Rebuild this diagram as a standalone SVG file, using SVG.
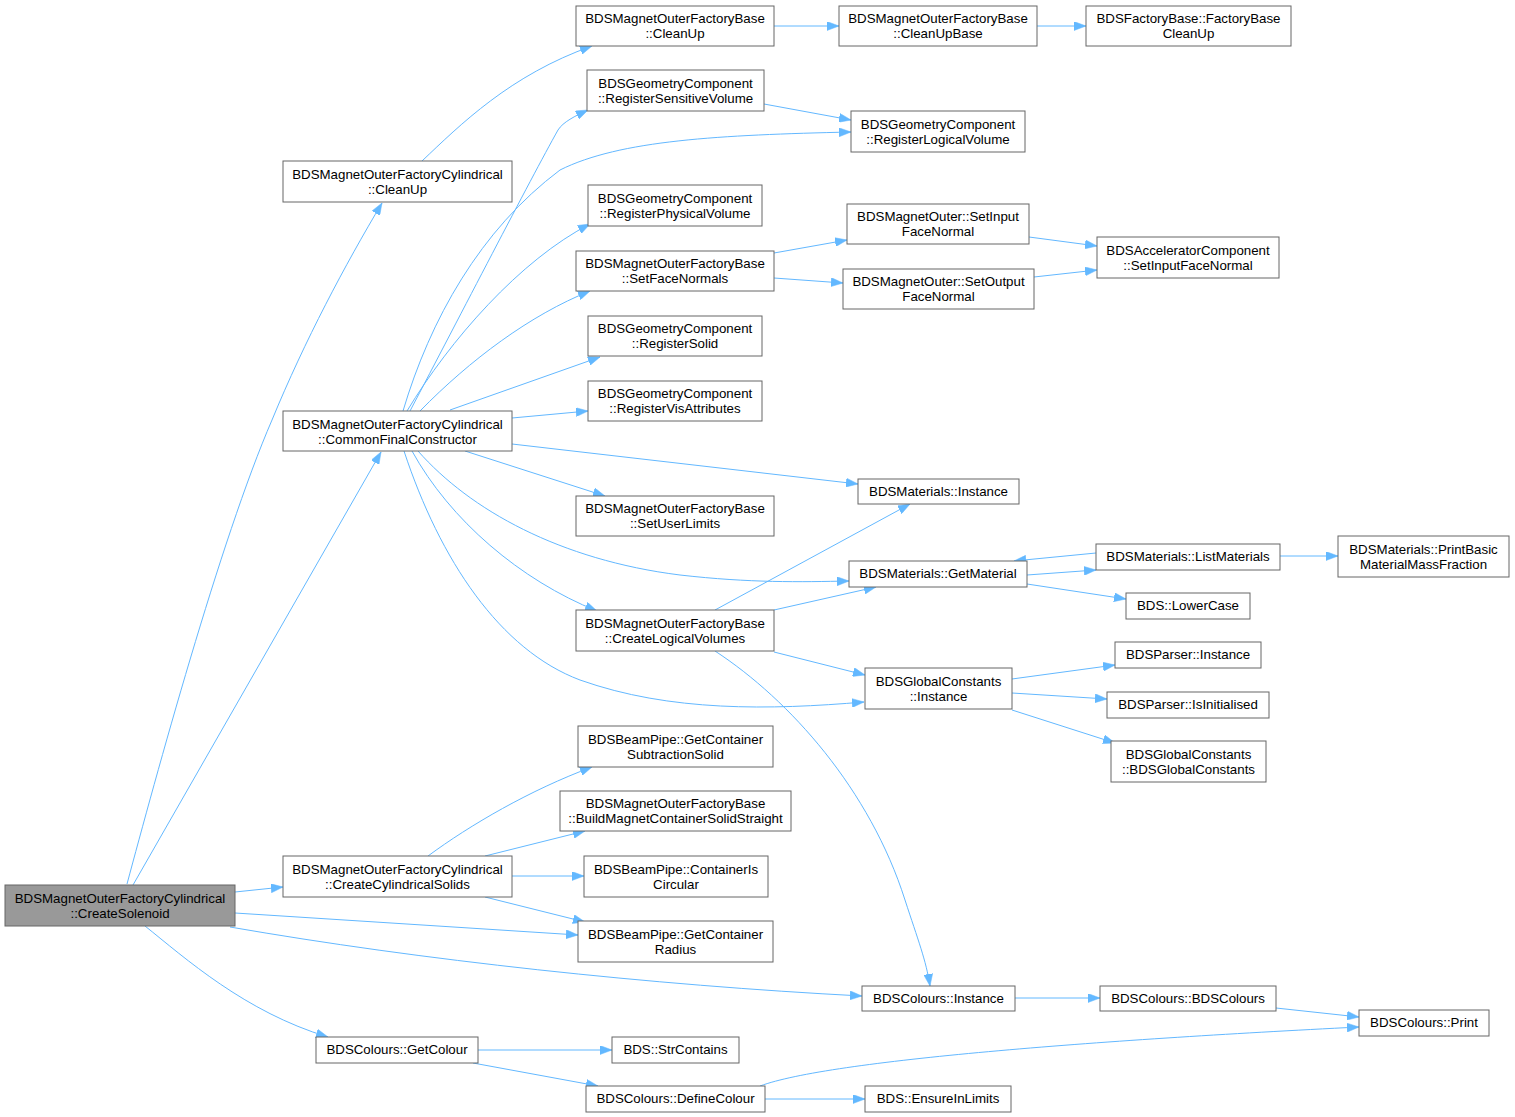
<svg xmlns="http://www.w3.org/2000/svg" width="1515" height="1117" viewBox="0 0 1515 1117">
<style>
.n rect{fill:#fff;stroke:#666;stroke-width:1}
.root rect{fill:#999}
.n text{font-family:"Liberation Sans",Arial,sans-serif;font-size:13.3px;fill:#000;text-anchor:middle}
#edges path{fill:none;stroke:#63b8ff;stroke-width:1;marker-end:url(#ah)}
</style>
<defs>
<marker id="ah" markerUnits="userSpaceOnUse" markerWidth="12" markerHeight="9" refX="12" refY="4.5" orient="auto" viewBox="0 0 12 9">
<path d="M0,0 L12,4.5 L0,9 z" fill="#63b8ff" stroke="#63b8ff" stroke-width="0.5"/>
</marker>
</defs>
<rect width="1515" height="1117" fill="#fff"/>
<g id="edges">
<path d="M127,884 C155,780 220,540 272,420 C305,340 345,265 382,203"/>
<path d="M133,885 L381,452"/>
<path d="M235,892 L283,887"/>
<path d="M235,913 L578,935"/>
<path d="M230,927 C420,960 650,985 862,996"/>
<path d="M145,926 C185,958 245,1012 328,1037"/>
<path d="M422,161 C460,125 510,75 592,46"/>
<path d="M774,26 L839,26"/>
<path d="M1037,26 L1086,26"/>
<path d="M410,411 C460,316 530,180 558,130 C563,122 575,116 588,110"/>
<path d="M403,411 C430,320 480,230 560,170 C620,140 720,135 851,132"/>
<path d="M407,411 C450,340 520,260 590,224"/>
<path d="M420,411 C470,360 530,315 590,291"/>
<path d="M450,410 L600,357"/>
<path d="M512,418 L588,411"/>
<path d="M512,444 L858,484"/>
<path d="M465,451 L605,496"/>
<path d="M418,451 C470,510 560,560 680,575 C750,583 800,582 849,581"/>
<path d="M412,451 C450,520 520,580 597,611"/>
<path d="M404,451 C440,560 500,650 580,680 C670,712 770,710 864,702"/>
<path d="M715,610 L910,504"/>
<path d="M774,610 L876,587"/>
<path d="M774,652 L865,675"/>
<path d="M715,651 C790,700 870,790 905,900 C918,940 926,960 930,986"/>
<path d="M1027,575 L1096,570"/>
<path d="M1096,553 L1014,561"/>
<path d="M1027,584 L1126,599"/>
<path d="M1280,556 L1338,556"/>
<path d="M774,253 L847,240"/>
<path d="M774,278 L843,283"/>
<path d="M1029,237 L1097,246"/>
<path d="M1034,277 L1097,270"/>
<path d="M764,104 L851,120"/>
<path d="M1012,679 L1115,665"/>
<path d="M1012,693 L1107,699"/>
<path d="M1012,710 L1115,743"/>
<path d="M428,856 C470,825 530,790 592,767"/>
<path d="M485,856 L585,831"/>
<path d="M512,876 L584,876"/>
<path d="M485,897 L585,922"/>
<path d="M1015,998 L1100,998"/>
<path d="M1276,1008 L1359,1017"/>
<path d="M478,1050 L612,1050"/>
<path d="M473,1063 L598,1086"/>
<path d="M760,1086 C830,1060 1100,1040 1359,1027"/>
<path d="M765,1099 L865,1099"/>
</g>
<g id="n_root" class="n root"><rect x="5" y="885" width="230" height="41"/><text x="120" y="903">BDSMagnetOuterFactoryCylindrical</text><text x="120" y="918">::CreateSolenoid</text></g>
<g id="n_cleanupcyl" class="n"><rect x="283" y="161" width="229" height="41"/><text x="397.5" y="179">BDSMagnetOuterFactoryCylindrical</text><text x="397.5" y="194">::CleanUp</text></g>
<g id="n_commonfinal" class="n"><rect x="283" y="411" width="229" height="40"/><text x="397.5" y="429">BDSMagnetOuterFactoryCylindrical</text><text x="397.5" y="444">::CommonFinalConstructor</text></g>
<g id="n_createcyl" class="n"><rect x="283" y="856" width="229" height="41"/><text x="397.5" y="874">BDSMagnetOuterFactoryCylindrical</text><text x="397.5" y="889">::CreateCylindricalSolids</text></g>
<g id="n_mofbcleanup" class="n"><rect x="576" y="6" width="198" height="40"/><text x="675" y="23">BDSMagnetOuterFactoryBase</text><text x="675" y="38">::CleanUp</text></g>
<g id="n_cleanupbase" class="n"><rect x="839" y="6" width="198" height="40"/><text x="938" y="23">BDSMagnetOuterFactoryBase</text><text x="938" y="38">::CleanUpBase</text></g>
<g id="n_factorybase" class="n"><rect x="1086" y="6" width="205" height="40"/><text x="1188.5" y="23">BDSFactoryBase::FactoryBase</text><text x="1188.5" y="38">CleanUp</text></g>
<g id="n_regsens" class="n"><rect x="587" y="70" width="177" height="41"/><text x="675.5" y="88">BDSGeometryComponent</text><text x="675.5" y="103">::RegisterSensitiveVolume</text></g>
<g id="n_reglog" class="n"><rect x="851" y="111" width="174" height="41"/><text x="938" y="129">BDSGeometryComponent</text><text x="938" y="144">::RegisterLogicalVolume</text></g>
<g id="n_regphys" class="n"><rect x="588" y="185" width="174" height="41"/><text x="675" y="203">BDSGeometryComponent</text><text x="675" y="218">::RegisterPhysicalVolume</text></g>
<g id="n_setface" class="n"><rect x="576" y="251" width="198" height="40"/><text x="675" y="268">BDSMagnetOuterFactoryBase</text><text x="675" y="283">::SetFaceNormals</text></g>
<g id="n_setinput" class="n"><rect x="847" y="204" width="182" height="40"/><text x="938" y="221">BDSMagnetOuter::SetInput</text><text x="938" y="236">FaceNormal</text></g>
<g id="n_setoutput" class="n"><rect x="843" y="269" width="191" height="40"/><text x="938.5" y="286">BDSMagnetOuter::SetOutput</text><text x="938.5" y="301">FaceNormal</text></g>
<g id="n_accsetinput" class="n"><rect x="1097" y="237" width="182" height="41"/><text x="1188" y="255">BDSAcceleratorComponent</text><text x="1188" y="270">::SetInputFaceNormal</text></g>
<g id="n_regsolid" class="n"><rect x="588" y="316" width="174" height="40"/><text x="675" y="333">BDSGeometryComponent</text><text x="675" y="348">::RegisterSolid</text></g>
<g id="n_regvis" class="n"><rect x="588" y="381" width="174" height="40"/><text x="675" y="398">BDSGeometryComponent</text><text x="675" y="413">::RegisterVisAttributes</text></g>
<g id="n_matinst" class="n"><rect x="858" y="479" width="161" height="25"/><text x="938.5" y="496">BDSMaterials::Instance</text></g>
<g id="n_setuserlimits" class="n"><rect x="576" y="496" width="198" height="40"/><text x="675" y="513">BDSMagnetOuterFactoryBase</text><text x="675" y="528">::SetUserLimits</text></g>
<g id="n_getmat" class="n"><rect x="849" y="561" width="178" height="26"/><text x="938" y="578">BDSMaterials::GetMaterial</text></g>
<g id="n_listmat" class="n"><rect x="1096" y="544" width="184" height="26"/><text x="1188" y="561">BDSMaterials::ListMaterials</text></g>
<g id="n_printbasic" class="n"><rect x="1338" y="536" width="171" height="41"/><text x="1423.5" y="554">BDSMaterials::PrintBasic</text><text x="1423.5" y="569">MaterialMassFraction</text></g>
<g id="n_lowercase" class="n"><rect x="1126" y="593" width="124" height="26"/><text x="1188" y="610">BDS::LowerCase</text></g>
<g id="n_createlog" class="n"><rect x="576" y="610" width="198" height="41"/><text x="675" y="628">BDSMagnetOuterFactoryBase</text><text x="675" y="643">::CreateLogicalVolumes</text></g>
<g id="n_gcinst" class="n"><rect x="865" y="668" width="147" height="41"/><text x="938.5" y="686">BDSGlobalConstants</text><text x="938.5" y="701">::Instance</text></g>
<g id="n_parserinst" class="n"><rect x="1115" y="642" width="146" height="26"/><text x="1188" y="659">BDSParser::Instance</text></g>
<g id="n_parserinit" class="n"><rect x="1107" y="692" width="162" height="26"/><text x="1188" y="709">BDSParser::IsInitialised</text></g>
<g id="n_gcctor" class="n"><rect x="1111" y="741" width="155" height="41"/><text x="1188.5" y="759">BDSGlobalConstants</text><text x="1188.5" y="774">::BDSGlobalConstants</text></g>
<g id="n_subsolid" class="n"><rect x="578" y="726" width="195" height="41"/><text x="675.5" y="744">BDSBeamPipe::GetContainer</text><text x="675.5" y="759">SubtractionSolid</text></g>
<g id="n_buildcont" class="n"><rect x="560" y="791" width="231" height="40"/><text x="675.5" y="808">BDSMagnetOuterFactoryBase</text><text x="675.5" y="823">::BuildMagnetContainerSolidStraight</text></g>
<g id="n_circular" class="n"><rect x="584" y="856" width="184" height="41"/><text x="676" y="874">BDSBeamPipe::ContainerIs</text><text x="676" y="889">Circular</text></g>
<g id="n_radius" class="n"><rect x="578" y="921" width="195" height="41"/><text x="675.5" y="939">BDSBeamPipe::GetContainer</text><text x="675.5" y="954">Radius</text></g>
<g id="n_colinst" class="n"><rect x="862" y="986" width="153" height="25"/><text x="938.5" y="1003">BDSColours::Instance</text></g>
<g id="n_colctor" class="n"><rect x="1100" y="986" width="176" height="25"/><text x="1188" y="1003">BDSColours::BDSColours</text></g>
<g id="n_colprint" class="n"><rect x="1359" y="1010" width="130" height="26"/><text x="1424" y="1027">BDSColours::Print</text></g>
<g id="n_getcolour" class="n"><rect x="316" y="1037" width="162" height="26"/><text x="397" y="1054">BDSColours::GetColour</text></g>
<g id="n_strcontains" class="n"><rect x="612" y="1037" width="127" height="26"/><text x="675.5" y="1054">BDS::StrContains</text></g>
<g id="n_definecolour" class="n"><rect x="586" y="1086" width="179" height="26"/><text x="675.5" y="1103">BDSColours::DefineColour</text></g>
<g id="n_ensure" class="n"><rect x="865" y="1086" width="146" height="26"/><text x="938" y="1103">BDS::EnsureInLimits</text></g>
</svg>
